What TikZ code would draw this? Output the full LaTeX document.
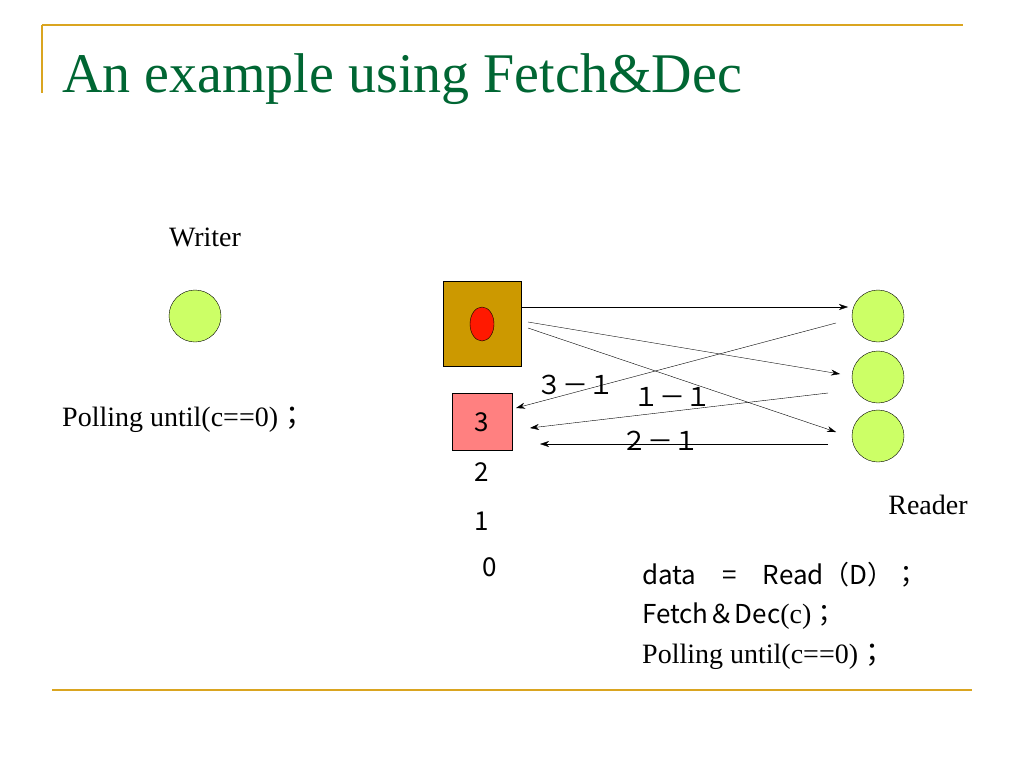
\documentclass[tikz,border=0pt]{standalone}
\usepackage{fontspec}
\usetikzlibrary{shapes.geometric,arrows.meta}
\setmainfont{Liberation Serif}
\newfontfamily\jp{Noto Sans CJK JP}
\definecolor{gold}{RGB}{218,165,32}
\definecolor{lime}{RGB}{204,255,102}
\definecolor{brown}{RGB}{204,153,0}
\definecolor{pinkbox}{RGB}{255,128,128}
\definecolor{titlegreen}{RGB}{0,102,51}
\begin{document}
\begin{tikzpicture}[x=1pt,y=-1pt]
            \tikzstyle{proc}=[circle,draw,fill=lime,minimum size=52pt,inner sep=0pt]
            \tikzset{edge/.style = {-{Stealth[length=9pt,width=6pt]}}}
            \tikzset{lab/.style = {font=\jp\fontsize{26}{30}\selectfont,inner sep=0pt}}
            \tikzset{txt/.style = {font=\fontsize{28}{32}\selectfont,inner sep=0pt}}
            \useasboundingbox (0,0) rectangle (1024,768);
            \draw[gold,line width=1.5pt] (42,25) -- (963,25);
            \draw[gold,line width=1.5pt] (42,25) -- (42,93);
            \draw[gold,line width=1.5pt] (52,690) -- (972,690);
            \node[anchor=base west,text=titlegreen,font=\fontsize{56}{60}\selectfont,inner sep=0pt] (title) at (62,92) {An example using Fetch\&Dec};
            \node[txt] (wlab) at (205,237) {Writer};
            \node[proc] (w) at (195,316) {};
            \node[txt,anchor=west] (wpoll) at (62,420) {Polling until(c==0){\jp；}};
            \node[draw,fill=brown,minimum width=78pt,minimum height=85pt] (c) at (482,324) {};
            \node[draw,ellipse,fill=red!80!orange,minimum width=24pt,minimum height=34pt,inner sep=0pt] (flag) at (482,324) {};
            \node[draw,fill=pinkbox,minimum width=60pt,minimum height=57pt,lab] (v3) at (482,422) {3};
            \node[lab] (v2) at (482,472) {2};
            \node[lab] (v1) at (482,521) {1};
            \node[lab] (v0) at (490,567) {0};
            \node[proc] (r1) at (878,316) {};
            \node[proc] (r2) at (878,377) {};
            \node[proc] (r3) at (878,436) {};
            \node[txt] (rlab) at (928,505) {Reader};
            \coordinate (a1) at (848,307);
            \coordinate (s1) at (528,322);
            \coordinate (s2) at (528,328);
            \coordinate (b1) at (836,323);
            \coordinate (b2) at (828,393);
            \coordinate (b3) at (828,444);
            \coordinate (e1) at (516,408);
            \coordinate (e2) at (530,428);
            \coordinate (e3) at (540,444);
            \draw[edge] (c.east |- a1) -- (a1);
            \draw[edge] (s1) -- (840,374);
            \draw[edge] (s2) -- (836,432);
            \draw[edge] (b1) -- (e1);
            \draw[edge] (b2) -- (e2);
            \draw[edge] (b3) -- (e3);
            \node[lab] (l31) at (575,385) {３－１};
            \node[lab] (l11) at (672,397) {１－１};
            \node[lab] (l21) at (660,441) {２－１};
            \node[lab,anchor=west] (code1) at (642,575) {data　=　Read（D）；};
            \node[lab,anchor=west] (code2) at (642,616) {Fetch＆Dec{\rmfamily\fontsize{28}{32}\selectfont(c)}；};
            \node[txt,anchor=west] (code3) at (642,657) {Polling until(c==0){\jp；}};
        \end{tikzpicture}
\end{document}
